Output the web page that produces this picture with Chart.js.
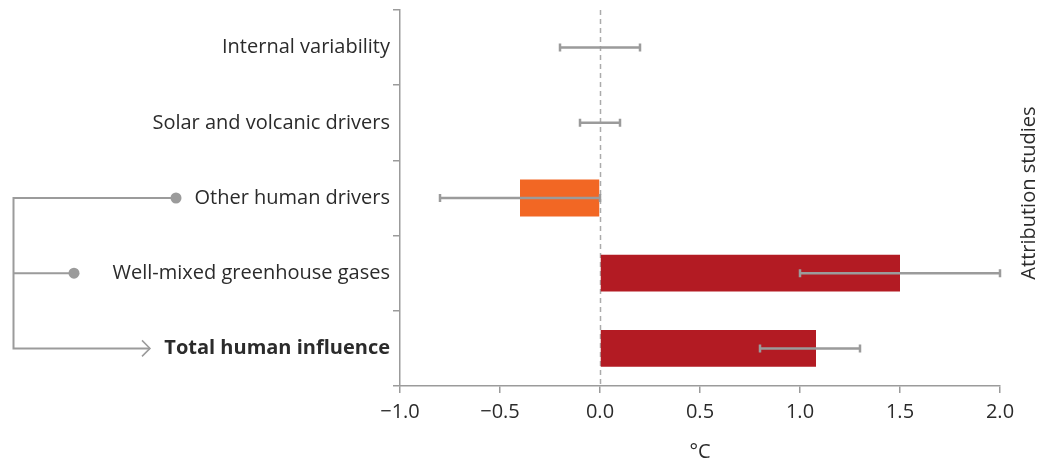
<!DOCTYPE html>
<html>
<head>
<meta charset="utf-8">
<script src="https://cdn.jsdelivr.net/npm/chart.js@4/dist/chart.umd.min.js"></script>
<style>
  html, body { margin: 0; padding: 0; background: #ffffff; }
  #wrap { width: 1042px; height: 464px; }
</style>
</head>
<body>
<div id="wrap"><canvas id="c" width="1042" height="464"></canvas></div>
<script>
// Contributions to observed warming (°C), best estimate and likely range
const categories = [
  'Internal variability',
  'Solar and volcanic drivers',
  'Other human drivers',
  'Well-mixed greenhouse gases',
  'Total human influence'
];
const bestEstimate = [0, 0, -0.4, 1.5, 1.08];
const rangeLow  = [-0.2, -0.1, -0.8, 1.0, 0.8];
const rangeHigh = [0.2, 0.1, 0.0, 2.0, 1.3];
const barColors = ['#b31b23', '#b31b23', '#f26724', '#b31b23', '#b31b23'];
const xTicks = [-1.0, -0.5, 0.0, 0.5, 1.0, 1.5, 2.0];

const GREY = '#9b9b9b';
const TEXT = '#2b2b2b';
const FONT = 'Open Sans';

// zero reference line behind the bars
const zeroLine = {
  id: 'zeroLine',
  beforeDatasetsDraw(chart) {
    const {ctx, chartArea, scales: {x}} = chart;
    const px = Math.round(x.getPixelForValue(0)) + 0.5;
    ctx.save();
    ctx.strokeStyle = '#ababab';
    ctx.lineWidth = 1.5;
    ctx.setLineDash([5, 4]);
    ctx.beginPath();
    ctx.moveTo(px, chartArea.top);
    ctx.lineTo(px, chartArea.bottom);
    ctx.stroke();
    ctx.restore();
  }
};

// likely-range whiskers drawn over the bars
const rangeBars = {
  id: 'rangeBars',
  afterDatasetsDraw(chart) {
    const {ctx, scales: {x, y}} = chart;
    ctx.save();
    ctx.strokeStyle = GREY;
    ctx.lineWidth = 2.5;
    categories.forEach((c, i) => {
      const cy = y.getPixelForValue(i);
      const x0 = x.getPixelForValue(rangeLow[i]);
      const x1 = x.getPixelForValue(rangeHigh[i]);
      ctx.beginPath();
      ctx.moveTo(x0, cy); ctx.lineTo(x1, cy);
      ctx.moveTo(x0, cy - 4); ctx.lineTo(x0, cy + 4);
      ctx.moveTo(x1, cy - 4); ctx.lineTo(x1, cy + 4);
      ctx.stroke();
    });
    ctx.restore();
  }
};

// bracket linking the human drivers to their total, and the side caption
const annotations = {
  id: 'annotations',
  afterDraw(chart) {
    const {ctx, chartArea, scales: {y}} = chart;
    const yOther = y.getPixelForValue(2);
    const yGhg = y.getPixelForValue(3);
    const yTotal = y.getPixelForValue(4);
    const xSpine = 13.5;
    ctx.save();
    ctx.strokeStyle = GREY;
    ctx.fillStyle = GREY;
    ctx.lineWidth = 2;
    ctx.beginPath();
    ctx.moveTo(176, yOther); ctx.lineTo(xSpine, yOther);
    ctx.lineTo(xSpine, yTotal); ctx.lineTo(150, yTotal);
    ctx.moveTo(xSpine, yGhg); ctx.lineTo(74, yGhg);
    ctx.stroke();
    ctx.lineWidth = 1.5;
    ctx.beginPath();
    ctx.moveTo(142, yTotal - 8); ctx.lineTo(150, yTotal); ctx.lineTo(142, yTotal + 8);
    ctx.stroke();
    [[176, yOther], [74, yGhg]].forEach(([dx, dy]) => {
      ctx.beginPath();
      ctx.arc(dx, dy, 5.5, 0, Math.PI * 2);
      ctx.fill();
    });

    ctx.fillStyle = TEXT;
    ctx.font = `20px "${FONT}"`;
    ctx.textAlign = 'center';
    ctx.textBaseline = 'alphabetic';
    ctx.translate(1035, (chartArea.top + chartArea.bottom) / 2 - 5);
    ctx.rotate(-Math.PI / 2);
    ctx.fillText('Attribution studies', 0, 0);
    ctx.restore();
  }
};

new Chart(document.getElementById('c'), {
  type: 'bar',
  data: {
    labels: categories,
    datasets: [{
      data: bestEstimate,
      backgroundColor: barColors,
      borderWidth: 0,
      categoryPercentage: 1,
      barPercentage: 0.49
    }]
  },
  options: {
    indexAxis: 'y',
    responsive: false,
    animation: false,
    events: [],
    layout: { padding: { top: 10, right: 42, bottom: 0, left: 0 } },
    plugins: { legend: { display: false }, tooltip: { enabled: false } },
    scales: {
      x: {
        type: 'linear',
        min: -1, max: 2,
        afterBuildTicks: s => { s.ticks = xTicks.map(v => ({ value: v })); },
        afterFit: s => { s.height = 78; },
        grid: { drawOnChartArea: false, drawTicks: true, tickLength: 7, color: GREY, lineWidth: 1.5 },
        border: { display: true, color: GREY, width: 1.5 },
        ticks: {
          padding: 7,
          color: TEXT,
          font: { family: FONT, size: 20 },
          callback: v => (v < 0 ? '\u2212' : '') + Math.abs(v).toFixed(1)
        },
        title: {
          display: true,
          text: '°C',
          color: TEXT,
          font: { family: FONT, size: 20 },
          padding: { top: 0, bottom: 0 }
        }
      },
      y: {
        type: 'category',
        afterFit: s => { s.width = 400; s.paddingTop = 0; s.paddingBottom = 0; },
        grid: { drawOnChartArea: false, drawTicks: true, tickLength: 7, color: GREY, lineWidth: 1.5, offset: true },
        border: { display: true, color: GREY, width: 1.5 },
        ticks: {
          padding: 3,
          color: TEXT,
          font: ctx => ({ family: FONT, size: 20, weight: ctx.index === 4 ? 'bold' : 'normal' })
        }
      }
    }
  },
  plugins: [zeroLine, rangeBars, annotations]
});
</script>
</body>
</html>
